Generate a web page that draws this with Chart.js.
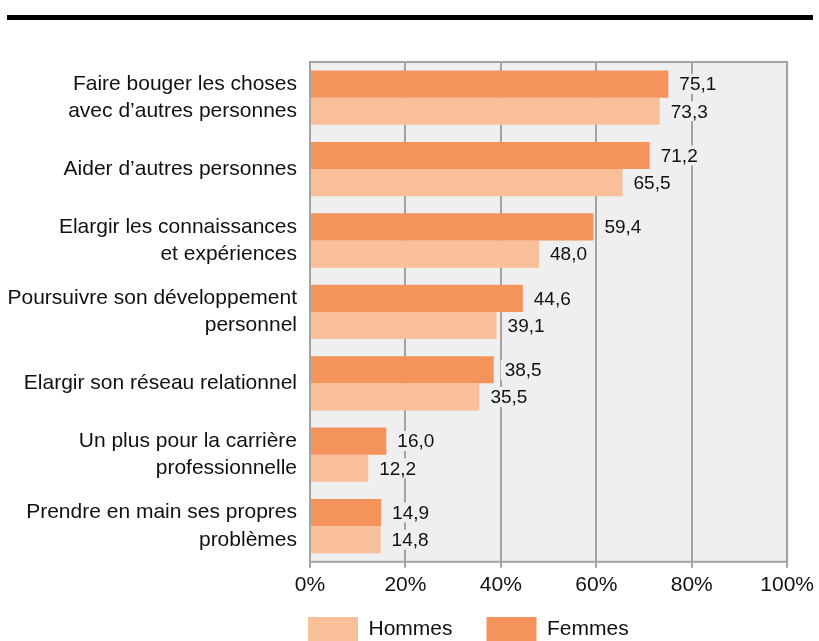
<!DOCTYPE html>
<html>
<head>
<meta charset="utf-8">
<script src="https://cdn.jsdelivr.net/npm/chart.js@4"></script>
<style>
  html, body { margin: 0; padding: 0; background: #fff; overflow: hidden; }
  #wrap { position: relative; width: 819px; height: 660px; }
  #rule { position: absolute; left: 7px; top: 15px; width: 806px; height: 5px; background: #000; }
</style>
</head>
<body>
<div id="wrap">
  <div id="rule"></div>
  <canvas id="myChart" width="819" height="660"></canvas>
</div>
<script>
var categories = [
  ["Faire bouger les choses", "avec d\u2019autres personnes"],
  "Aider d\u2019autres personnes",
  ["Elargir les connaissances", "et exp\u00e9riences"],
  ["Poursuivre son d\u00e9veloppement", "personnel"],
  "Elargir son r\u00e9seau relationnel",
  ["Un plus pour la carri\u00e8re", "professionnelle"],
  ["Prendre en main ses propres", "probl\u00e8mes"]
];
var femmes = [75.1, 71.2, 59.4, 44.6, 38.5, 16.0, 14.9];
var hommes = [73.3, 65.5, 48.0, 39.1, 35.5, 12.2, 14.8];
var xTicks = [0, 20, 40, 60, 80, 100];

var fontName = "'Liberation Sans Narrow', 'Liberation Sans', sans-serif";
var gridColor = "#a3a3a3";
var textColor = "#111";
var legendGap = 34;
var legendHeight = 49;
var legendItemTop = 617;

var plotBox = {
  id: "plotBox",
  beforeDraw: function (chart) {
    var a = chart.chartArea, ctx = chart.ctx;
    ctx.save();
    ctx.fillStyle = "#efefef";
    ctx.fillRect(a.left, a.top, a.right - a.left, a.bottom - a.top);
    ctx.restore();
  },
  beforeDatasetsDraw: function (chart) {
    var a = chart.chartArea, ctx = chart.ctx;
    ctx.save();
    ctx.strokeStyle = gridColor;
    ctx.lineWidth = 2;
    ctx.strokeRect(a.left, a.top, a.right - a.left, a.bottom - a.top);
    ctx.restore();
  }
};

var valueLabels = {
  id: "valueLabels",
  afterDatasetsDraw: function (chart) {
    var ctx = chart.ctx;
    ctx.save();
    ctx.font = "19px " + fontName;
    ctx.textBaseline = "middle";
    ctx.textAlign = "left";
    chart.data.datasets.forEach(function (ds, i) {
      chart.getDatasetMeta(i).data.forEach(function (bar, j) {
        var txt = ds.data[j].toFixed(1).replace(".", ",");
        var w = ctx.measureText(txt).width;
        ctx.fillStyle = "#efefef";
        ctx.fillRect(bar.x + 7, bar.y - 10, w + 6, 20);
        ctx.fillStyle = textColor;
        ctx.fillText(txt, bar.x + 11, bar.y + 1);
      });
    });
    ctx.restore();
  }
};

// legend: wide gap between items but little room taken under the axis
var legendShift = {
  id: "legendShift",
  beforeInit: function (chart) {
    var lg = chart.legend;
    var fit = lg.fit;
    lg.fit = function () {
      fit.call(this);
      this.height = legendHeight;
    };
  },
  afterLayout: function (chart) {
    var lg = chart.legend;
    lg.top = legendItemTop - legendGap;
    lg.left = chart.chartArea.left - 2 - legendGap;
  }
};

new Chart("myChart", {
  type: "bar",
  data: {
    labels: categories,
    datasets: [{
      label: "Femmes",
      data: femmes,
      backgroundColor: "#f4935c",
      categoryPercentage: 0.76,
      barPercentage: 1.0
    }, {
      label: "Hommes",
      data: hommes,
      backgroundColor: "#f9bf99",
      categoryPercentage: 0.76,
      barPercentage: 1.0
    }]
  },
  options: {
    indexAxis: "y",
    responsive: false,
    animation: false,
    layout: { padding: { top: 62, right: 20, left: 0, bottom: 8 } },
    scales: {
      x: {
        min: 0, max: 100,
        afterBuildTicks: function (s) { s.ticks = xTicks.map(function (v) { return { value: v }; }); },
        grid: { color: gridColor, lineWidth: 2, tickLength: 6, drawTicks: true },
        border: { display: false },
        ticks: {
          color: textColor,
          font: { family: fontName, size: 21 },
          padding: 5,
          callback: function (v) { return v + "%"; }
        }
      },
      y: {
        grid: { display: false, drawTicks: false },
        border: { display: false },
        afterFit: function (s) { s.width = 310; },
        ticks: {
          color: textColor,
          font: { family: fontName, size: 21, lineHeight: 1.3 },
          padding: 13
        }
      }
    },
    plugins: {
      legend: {
        position: "bottom",
        align: "start",
        reverse: true,
        labels: {
          boxWidth: 50,
          boxHeight: 24,
          padding: legendGap,
          color: textColor,
          font: { family: fontName, size: 21 }
        }
      },
      tooltip: { enabled: false }
    }
  },
  plugins: [plotBox, valueLabels, legendShift]
});
</script>
</body>
</html>
